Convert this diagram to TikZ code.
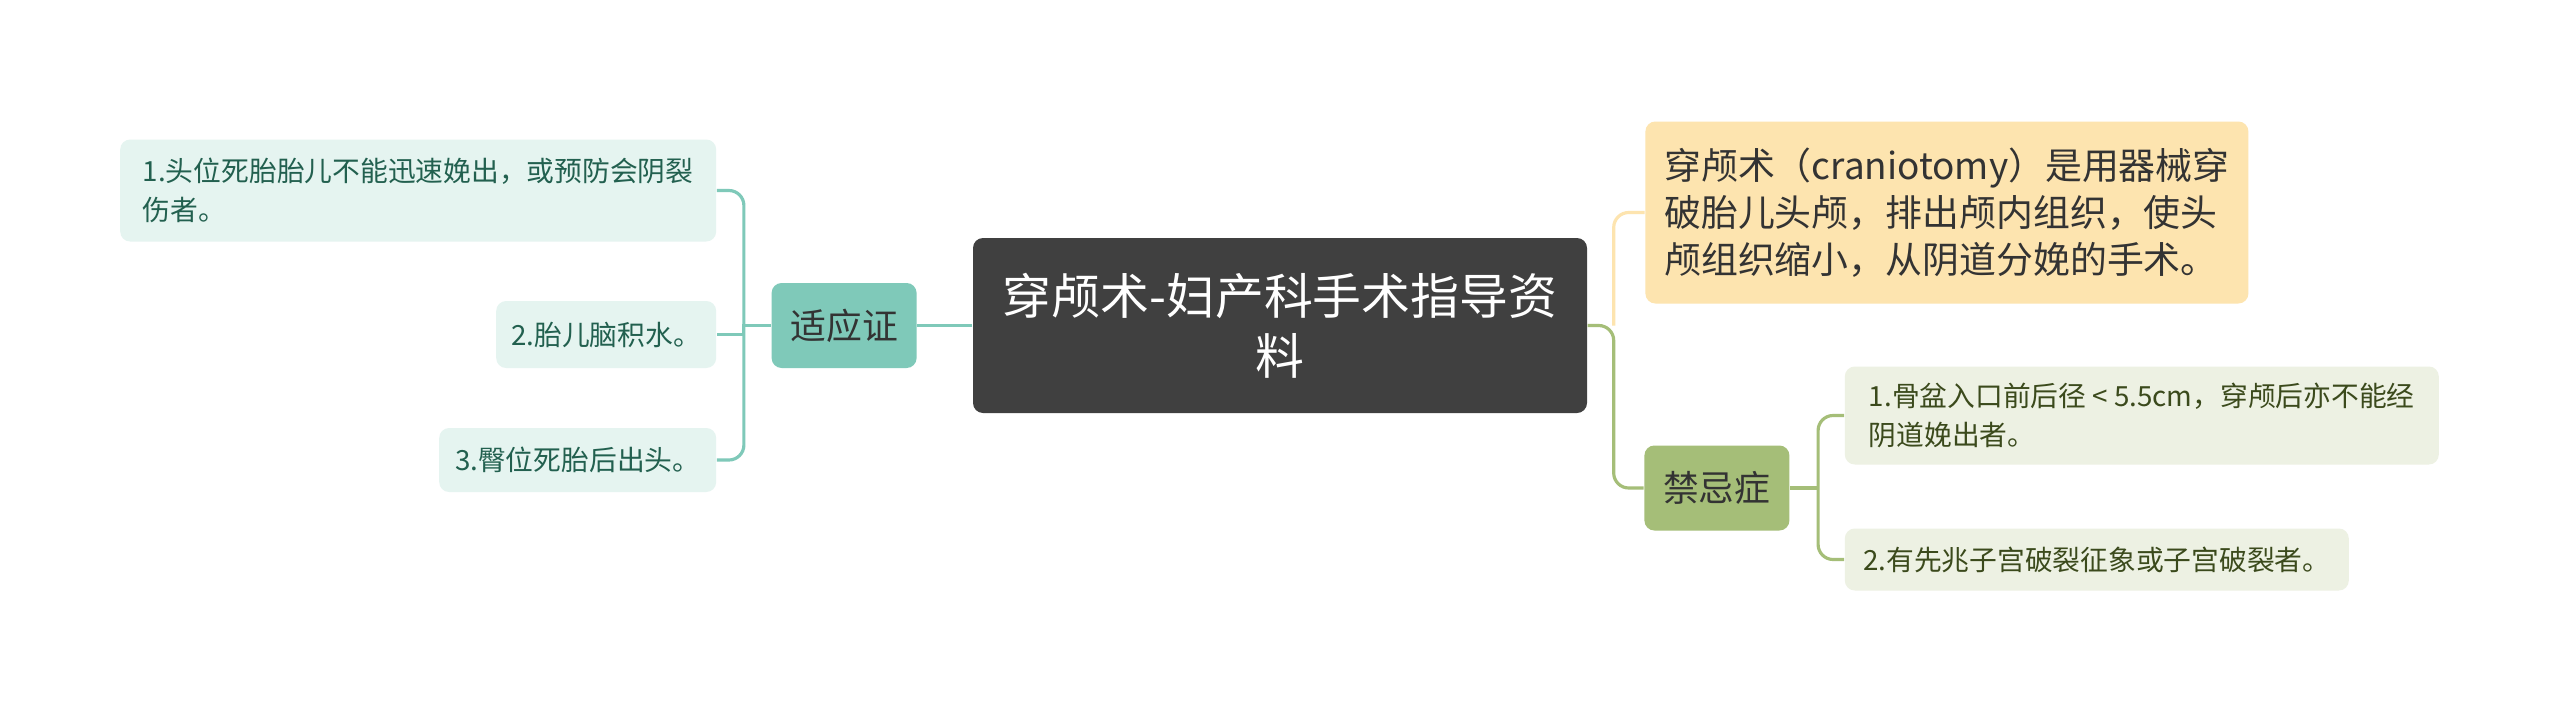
\documentclass[tikz,border=0pt]{standalone}
\usepackage{fontspec}
\setmainfont{Noto Sans CJK SC}
\usetikzlibrary{positioning,calc}
\definecolor{rootgray}{HTML}{404040}
\definecolor{tealmain}{HTML}{7FC9B9}
\definecolor{tealleaf}{HTML}{E5F4F0}
\definecolor{tealtext}{HTML}{22604F}
\definecolor{yellowmain}{HTML}{FDE4AF}
\definecolor{greenmain}{HTML}{A5BE78}
\definecolor{greenleaf}{HTML}{EDF1E3}
\definecolor{greentext}{HTML}{3B4A1C}
\tikzset{
    root node/.style={
        rectangle,
        rounded corners=1mm,
        fill=rootgray,
        text=white,
        align=center,
        minimum width=61.4mm,
        minimum height=17.5mm,
        font=\fontsize{13.9pt}{17pt}\selectfont,
    },
    main node/.style={
        rectangle,
        rounded corners=1mm,
        align=center,
        minimum width=14.5mm,
        minimum height=8.5mm,
        font=\fontsize{10.2pt}{12pt}\selectfont,
    },
    leaf/.style={
        rectangle,
        rounded corners=1mm,
        align=left,
        inner xsep=1.5mm,
        font=\fontsize{7.9pt}{11.1pt}\selectfont,
    },
    teal leaf/.style={
        leaf,
        fill=tealleaf,
        text=tealtext,
    },
    green leaf/.style={
        leaf,
        fill=greenleaf,
        text=greentext,
    },
    connector/.style={
        line width=0.9pt,
        rounded corners=1.5mm,
    },
}
\begin{document}
\begin{tikzpicture}[x=0.1mm,y=-0.1mm]
    \useasboundingbox[fill=white] (0,0) rectangle (2560,715);
    \node[root node](root) at (1280,325.5) {穿颅术-妇产科手术指导资\\料};
    % left branch
    \node[main node,fill=tealmain,text=black!80,left=5.5mm of root](sy) {适应证};
    \node[teal leaf,left=5.4mm of sy,yshift=13.5mm,minimum width=59.6mm,minimum height=10.2mm](l1)
        {1.头位死胎胎儿不能迅速娩出，或预防会阴裂\\伤者。};
    \node[teal leaf,left=5.4mm of sy,yshift=-0.9mm,minimum width=22mm,minimum height=6.7mm](l2)
        {2.胎儿脑积水。};
    \node[teal leaf,left=5.4mm of sy,yshift=-13.45mm,minimum width=27.7mm,minimum height=6.4mm](l3)
        {3.臀位死胎后出头。};
    % right branch
    \node[main node,fill=yellowmain,text=black!80,align=left,font=\fontsize{10.5pt}{13.4pt}\selectfont,
        right=5.7mm of root,yshift=11.3mm,minimum width=60.3mm,minimum height=18.2mm](def)
        {穿颅术（craniotomy）是用器械穿\\破胎儿头颅，排出颅内组织，使头\\颅组织缩小，从阴道分娩的手术。};
    \node[main node,fill=greenmain,text=black!80,right=5.6mm of root,yshift=-16.25mm](kj) {禁忌症};
    \node[green leaf,right=5.4mm of kj,yshift=7.25mm,minimum width=59.4mm,minimum height=9.8mm](r1)
        {1.骨盆入口前后径 < 5.5cm，穿颅后亦不能经\\阴道娩出者。};
    \node[green leaf,right=5.4mm of kj,yshift=-7.15mm,minimum width=50.4mm,minimum height=6.2mm](r2)
        {2.有先兆子宫破裂征象或子宫破裂者。};
    % connectors
    \coordinate (lj) at ($(sy.west)+(-2.7mm,0)$);
    \draw[connector,tealmain] (root.west) -- (sy.east);
    \draw[connector,tealmain] (l1.east) -| (lj) |- (l3.east);
    \draw[connector,tealmain,sharp corners] (sy.west) -- (lj) |- (l2.east);
    \coordinate (rj) at ($(root.east)+(2.6mm,0)$);
    \draw[connector,yellowmain] (def.west) -| (rj);
    \draw[connector,greenmain] (root.east) -- (rj) |- (kj.west);
    \coordinate (kjj) at ($(kj.east)+(2.8mm,0)$);
    \draw[connector,greenmain] (r1.west) -| (kjj) |- (r2.west);
    \draw[connector,greenmain] (kj.east) -- (kjj);
\end{tikzpicture}
\end{document}
